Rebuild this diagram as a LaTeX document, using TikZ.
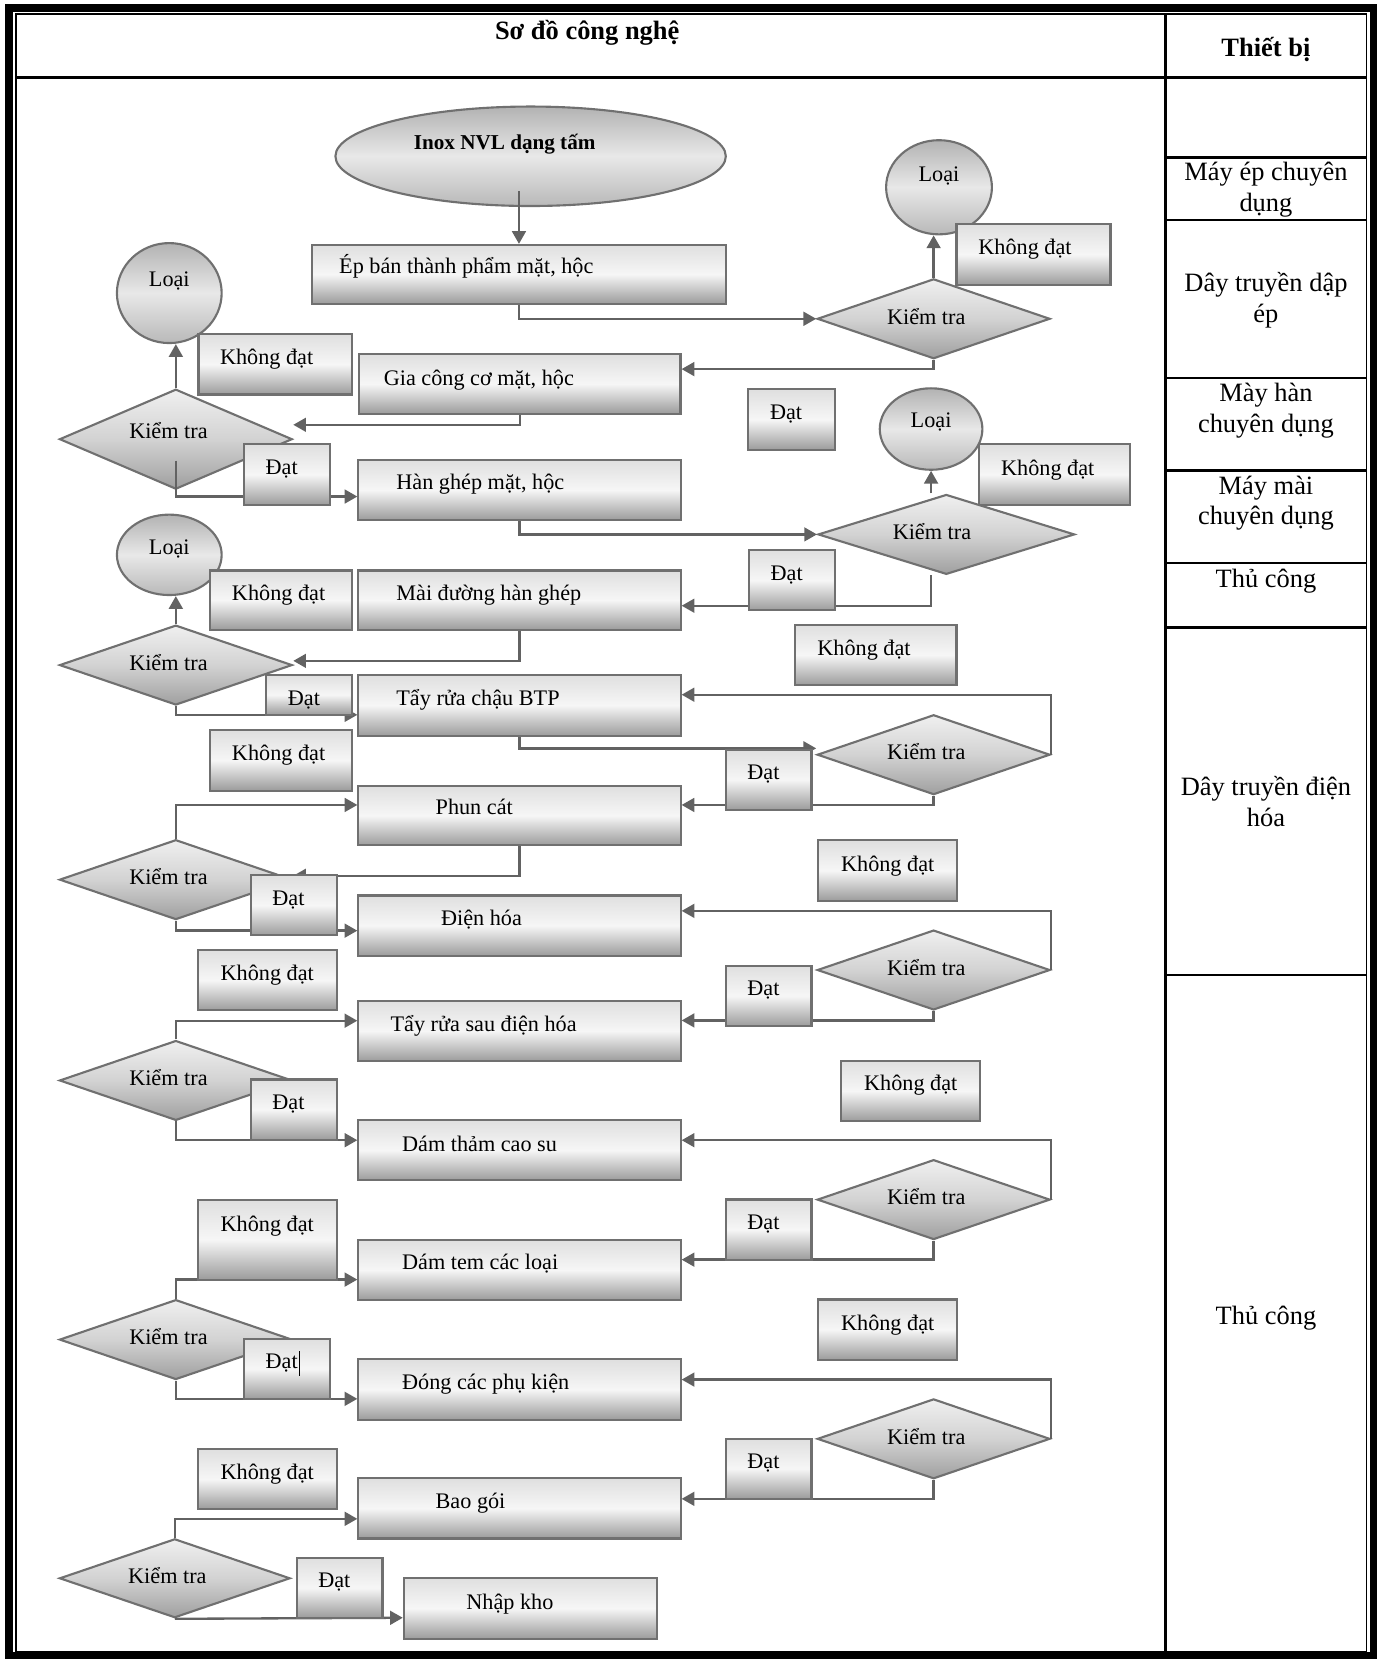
\documentclass[tikz,border=0pt]{standalone}
\usepackage{fontspec}
\setmainfont{Liberation Serif}
\usetikzlibrary{arrows.meta,positioning,calc,shapes.geometric}
\definecolor{edgegray}{RGB}{112,112,112}
\definecolor{linkgray}{RGB}{98,98,98}
\tikzset{
  flow/.style={-{Triangle[length=12pt,width=13pt]}, line width=2.2pt, linkgray},
  grid/.style={line width=2.2pt},
  boxshade/.style={draw=edgegray, line width=2pt, top color=gray!25, bottom color=gray!78, middle color=gray!7},
  proc/.style={boxshade, rectangle, minimum width=304.5pt, minimum height=57pt, inner sep=0pt},
  tagbox/.style={boxshade, rectangle, minimum width=81pt, minimum height=57pt, inner sep=0pt},
  dat/.style={tagbox, label={[xshift=-5pt,yshift=5pt,#1]center:Đạt}},
  dat/.default={},
  kd/.style={tagbox, minimum width=131.5pt, label={[yshift=4.5pt,#1]center:Không đạt}},
  kd/.default={},
  chk/.style={diamond, draw=edgegray, line width=2pt, top color=gray!12, bottom color=gray!75, middle color=gray!35,
    minimum width=220pt, minimum height=75.5pt, inner sep=0pt, label={[xshift=-7pt,#1]center:Kiểm tra}},
  chk/.default={},
  oval/.style={ellipse, draw=edgegray, line width=2pt, top color=gray!60, bottom color=gray!55, middle color=gray!18, inner sep=0pt},
  loai/.style={oval, minimum width=99pt, minimum height=76pt, label={[yshift=#1]center:Loại}},
  loai/.default=6pt,
  txt/.style={anchor=west},
  every label/.style={inner sep=0pt, text height=15pt, text depth=5pt},
  cell/.style={font=\fontsize{25}{29}\selectfont, align=center, inner sep=0pt},
}

\begin{document}
\begin{tikzpicture}[x=1pt, y=-1pt, font=\fontsize{21}{25}\selectfont]
  \useasboundingbox (0,0) rectangle (1301,1568);
  % frame and table
  \draw[line width=7.5pt] (8.4,7.4) rectangle (1298.5,1565.5);
  \draw[line width=1.6pt] (14.8,13.4) rectangle (1291.5,1561);
  \draw[grid] (14.8,73.4) -- (1291.5,73.4);
  \draw[grid] (1101.4,13.4) -- (1101.4,1561);
  \foreach \y in {149,207.9,357.3,444.7,532.3,593,921.8}
    \draw[grid] (1101.4,\y) -- (1291.5,\y);
  \node[cell, font=\fontsize{25}{29}\selectfont\bfseries] (title) at (555,31) {Sơ đồ công nghệ};
  \node[cell, font=\fontsize{25}{29}\selectfont\bfseries] (dev) at (1196.5,47) {Thiết bị};
  \node[cell] (m1) at (1196.5,179.5) {Máy ép chuyên\\dụng};
  \node[cell] (m2) at (1196.5,284) {Dây truyền dập\\ép};
  \node[cell] (m3) at (1196.5,388) {Mày hàn\\chuyên dụng};
  \node[cell] (m4) at (1196.5,475.5) {Máy mài\\chuyên dụng};
  \node[cell] (m5) at (1196.5,549.5) {Thủ công};
  \node[cell] (m6) at (1196.5,757.5) {Dây truyền điện\\hóa};
  \node[cell] (m7) at (1196.5,1245.5) {Thủ công};

  % raw material
  \node[oval, minimum width=369pt, minimum height=94pt,
    label={[xshift=-24.5pt,yshift=11.7pt,font=\fontsize{20}{24}\selectfont\bfseries]center:Inox NVL dạng tấm}] (e0) at (501.5,147.7) {};

  % process steps
  \node[proc, minimum width=391pt, minimum height=55.5pt, label={[txt,xshift=26.4pt,yshift=5.75pt]west:{Ép bán thành phẩm mặt, hộc}}] (p1) at (490.5,259.25) {};
  \node[proc, minimum width=303.7pt, minimum height=56.7pt, label={[txt,xshift=24.1pt,yshift=3.85pt]west:{Gia công cơ mặt, hộc}}] (p2) at (491.35,362.85) {};
  \node[proc, label={[txt,xshift=36.7pt,yshift=5pt]west:{Hàn ghép mặt, hộc}}] (p3) at (491,463) {};
  \node[proc, minimum height=56pt, label={[txt,xshift=36.7pt,yshift=5pt]west:Mài đường hàn ghép}] (p4) at (491,567.2) {};
  \node[proc, minimum height=57.6pt, label={[txt,xshift=36.7pt,yshift=5.2pt]west:Tẩy rửa chậu BTP}] (p5) at (491,666.6) {};
  \node[proc, minimum height=56.4pt, label={[txt,xshift=73.8pt,yshift=5.8pt]west:Phun cát}] (p6) at (491,770.8) {};
  \node[proc, label={[txt,xshift=78.9pt,yshift=5pt]west:Điện hóa}] (p7) at (491,874.9) {};
  \node[proc, label={[txt,xshift=31.2pt,yshift=5pt]west:Tẩy rửa sau điện hóa}] (p8) at (491,974.45) {};
  \node[proc, label={[txt,xshift=42.1pt,yshift=3.75pt]west:Dám thảm cao su}] (p9) at (491,1087.15) {};
  \node[proc, label={[txt,xshift=42.1pt,yshift=5pt]west:Dám tem các loại}] (p10) at (491,1200.25) {};
  \node[proc, label={[txt,xshift=42.1pt,yshift=4.7pt]west:Đóng các phụ kiện}] (p11) at (491,1313.3) {};
  \node[proc, label={[txt,xshift=73.8pt,yshift=4.6pt]west:Bao gói}] (p12) at (491,1425.6) {};
  \node[proc, minimum width=239.6pt, minimum height=57.6pt, label={[txt,xshift=59.9pt,yshift=3.6pt]west:Nhập kho}] (p13) at (501.5,1520) {};

  % rejects
  \node[loai=10pt, minimum width=100pt, minimum height=89pt] (lA) at (887.5,177) {};
  \node[loai=11pt, minimum height=94.5pt] (lB) at (160,277) {};
  \node[loai=6pt, minimum width=97pt, minimum height=77pt] (lC) at (880,405.5) {};
  \node[loai=5pt] (lD) at (160,524.4) {};

  % checks
  \node[chk={yshift=6pt}, minimum height=94.5pt] (dL1) at (166.2,415.1) {};
  \node[chk] (dL2) at (166.2,628.6) {};
  \node[chk] (dL3) at (166.2,831.4) {};
  \node[chk] (dL4) at (166.2,1021.2) {};
  \node[chk] (dL5) at (166.2,1266.1) {};
  \node[chk, minimum width=218pt, minimum height=74.6pt] (dL6) at (165.2,1491.7) {};
  \node[chk] (dA) at (882.4,301.3) {};
  \node[chk={xshift=-6.6pt}, minimum width=242.5pt] (dB) at (894.4,505.1) {};
  \node[chk] (dC) at (882.4,713.3) {};
  \node[chk] (dD) at (882.4,916.8) {};
  \node[chk] (dE) at (882.4,1133.8) {};
  \node[chk] (dF) at (882.4,1359.9) {};

  % connectors
  \draw[flow] ($(p1.north |- e0.south)+(0,-15)$) -- (p1.north);
  \draw[flow] (p1.south) |- (dA.west);
  \draw[flow] (dA.north) -- (dA.north |- lA.south);
  \draw[flow] (dA.south) |- ([yshift=14pt]p2.east);
  \draw[flow] (p2.south) |- ([yshift=13.6pt]dL1.east);
  \draw[flow] (dL1.north) -- (dL1.north |- lB.south);
  \draw[flow] ([yshift=28pt]dL1.south) |- ([yshift=-6.3pt]p3.west);
  \draw[flow] (p3.south) |- (dB.west);
  \draw[flow] (lC.south |- dB.north) -- (lC.south);
  \draw[flow] (lC.south |- dB.south) |- ([yshift=-5.3pt]p4.east);
  \draw[flow] (p4.south) |- ([yshift=4pt]dL2.east);
  \draw[flow] (dL2.north) -- (dL2.north |- lD.south);
  \draw[flow] (dL2.south) |- ([yshift=-9pt]p5.west);
  \draw[flow] (p5.south) |- ([yshift=6pt]dC.west);
  \draw[flow] (dC.east) |- ([yshift=10pt]p5.east);
  \draw[flow] (dC.south) |- ([yshift=10pt]p6.east);
  \draw[flow] (dL3.north) |- ([yshift=10pt]p6.west);
  \draw[flow] (p6.south) |- ([yshift=3.7pt]dL3.east);
  \draw[flow] (dL3.south) |- ([yshift=-4.7pt]p7.west);
  \draw[flow] (dD.east) |- ([yshift=14pt]p7.east);
  \draw[flow] (dD.south) |- ([yshift=10pt]p8.east);
  \draw[flow] (dL4.north) |- ([yshift=9.75pt]p8.west);
  \draw[flow] (dL4.south) |- ([yshift=9.5pt]p9.west);
  \draw[flow] (dE.east) |- ([yshift=9.5pt]p9.east);
  \draw[flow] (dE.south) |- ([yshift=9.7pt]p10.east);
  \draw[flow] (dL5.north) |- ([yshift=-9.15pt]p10.west);
  \draw[flow] (dL5.south) |- ([yshift=-8.8pt]p11.west);
  \draw[flow] (dF.east) |- ([yshift=9.4pt]p11.east);
  \draw[flow] (dF.south) |- ([yshift=9pt]p12.east);
  \draw[flow] (dL6.north) |- ([yshift=-9.9pt]p12.west);
  \draw[flow] (dL6.south) -- ([yshift=-9pt]p13.west);

  % result tags, on top of the lines
  \node[kd={xshift=-8pt}, minimum width=145.5pt, minimum height=57.7pt] (kA) at (976.8,240.5) {};
  \node[kd={xshift=-8pt}, minimum width=144.7pt] (kB) at (260,344.4) {};
  \node[kd={xshift=-6pt}, minimum width=142.6pt] (kC) at (996.3,448.5) {};
  \node[kd={xshift=-2pt}, minimum width=134pt, minimum height=56pt] (kD) at (265.3,567.2) {};
  \node[kd={xshift=-11pt}, minimum width=152.8pt] (kE) at (827.6,618.9) {};
  \node[kd={xshift=-2pt}, minimum width=134pt] (kF) at (265.3,718.7) {};
  \node[kd, minimum width=131.7pt] (kG) at (839,822.8) {};
  \node[kd] (kH) at (252.6,926.4) {};
  \node[kd={yshift=1.5pt}] (kJ) at (860.8,1031.2) {};
  \node[kd={yshift=8.5pt}, minimum height=75.6pt] (kI) at (252.6,1171.6) {};
  \node[kd, minimum width=131.7pt] (kK) at (839,1256.7) {};
  \node[kd] (kL) at (252.6,1398) {};

  \node[dat, minimum width=82.7pt] (tA) at (748,396.5) {};
  \node[dat] (tB) at (271.2,448.5) {};
  \node[dat] (tC) at (748.5,548.4) {};
  \node[dat={yshift=-9.7pt}, minimum height=37.7pt] (tD) at (292.3,656.7) {};
  \node[dat] (tE) at (726.5,737) {};
  \node[dat] (tF) at (277.6,855.5) {};
  \node[dat] (tG) at (726.5,941.2) {};
  \node[dat] (tH) at (277.6,1048.8) {};
  \node[dat] (tI) at (726.5,1162.2) {};
  \node[dat] (tJ) at (271.2,1293.8) {};
  \node[dat] (tK) at (726.5,1388.2) {};
  \node[dat] (tL) at (321,1500.7) {};
  % text cursor left in one tag
  \draw[line width=1pt] ([xshift=12.2pt,yshift=16.8pt]tJ.center) -- ++(0,23.7);
\end{tikzpicture}
\end{document}
